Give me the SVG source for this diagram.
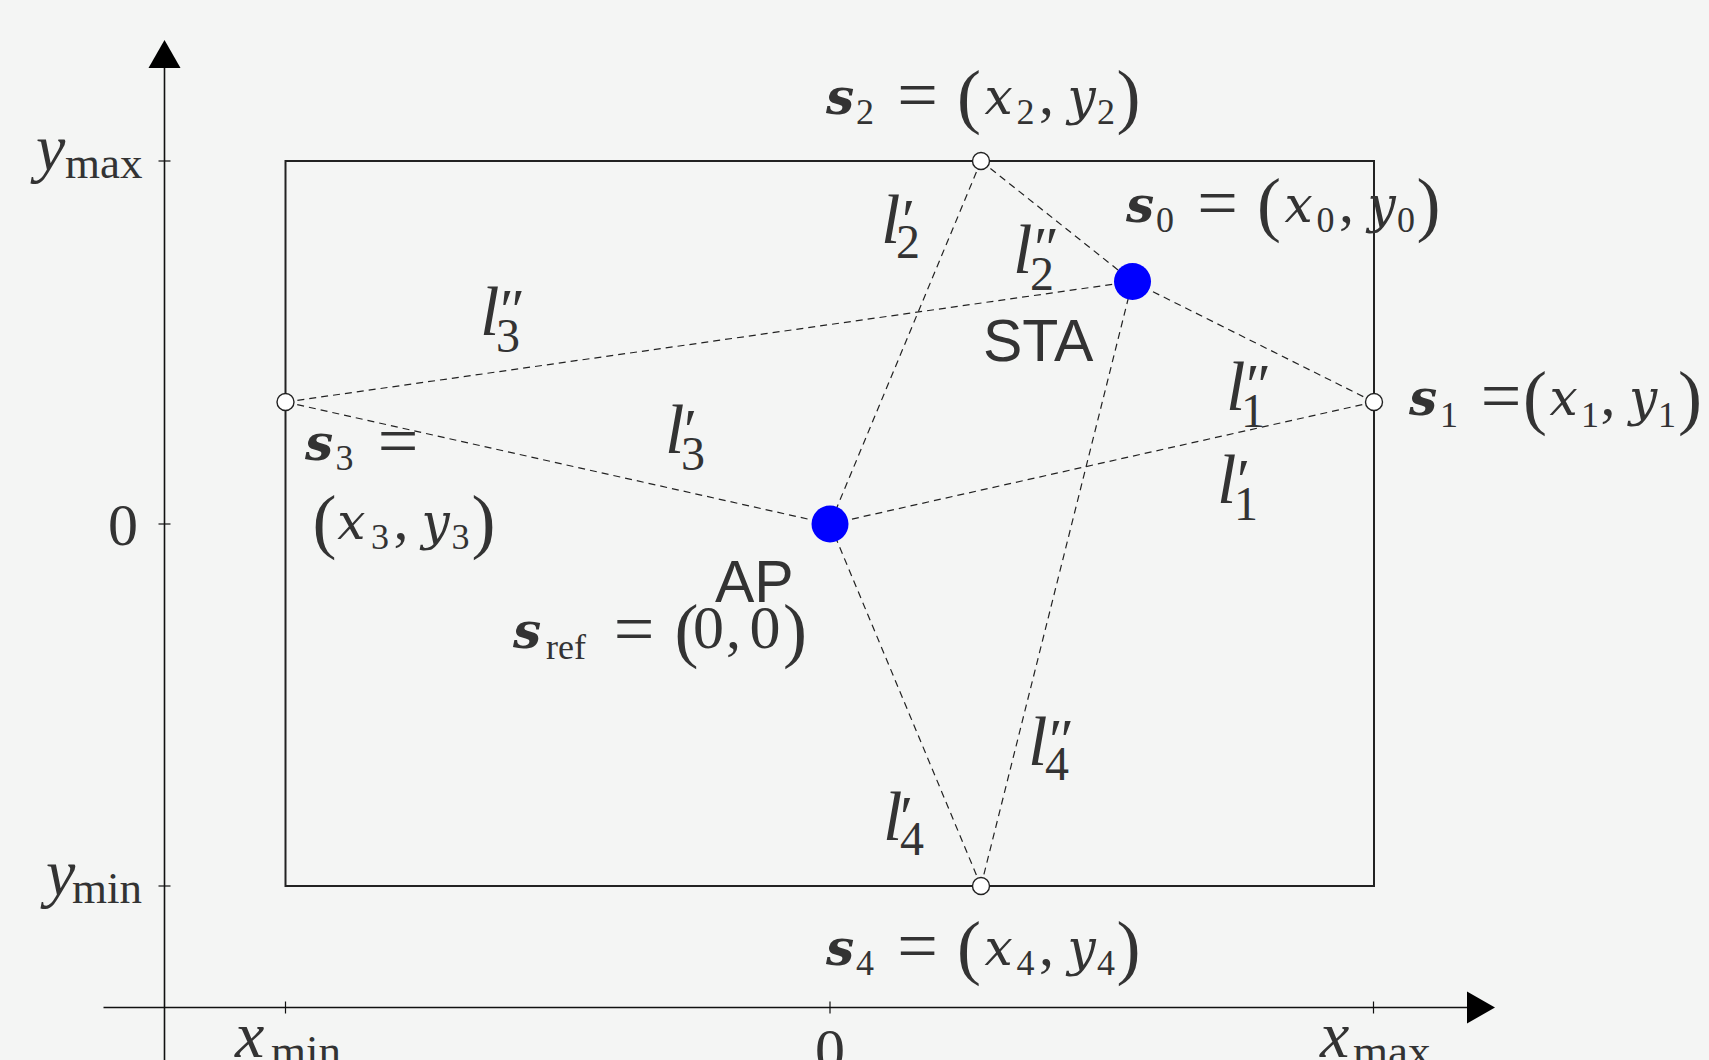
<svg xmlns="http://www.w3.org/2000/svg" width="1709" height="1060" viewBox="0 0 1709 1060">
<style>
.m{font-family:"Liberation Serif","Times New Roman",serif;fill:#333}
.i{font-style:italic}
.v{font-family:"DejaVu Serif",serif;font-style:italic;font-size:50px}
.b{font-family:"DejaVu Serif",serif;font-style:italic;font-weight:bold;font-size:50px}
.sub{font-size:36px}
.eq{font-size:72px}
.par{font-size:72px}
.sf{font-family:"Liberation Sans",Arial,sans-serif;font-size:59px;fill:#333}
.ax{stroke:#111;stroke-width:1.6;fill:none}
.tk{stroke:#111;stroke-width:1.2}
.dash{stroke:#222;stroke-width:1.2;stroke-dasharray:7 5;fill:none}
.hole{fill:#fff;stroke:#222;stroke-width:1.4}
.dot{fill:#0000ff}
</style>
<rect width="1709" height="1060" fill="#f4f5f4"/>
<g id="axes">
<line class="ax" x1="164.5" y1="1060" x2="164.5" y2="66"/>
<polygon points="164.5,40 148.5,68 180.5,68" fill="#000"/>
<line class="ax" x1="103.5" y1="1007.5" x2="1468" y2="1007.5"/>
<polygon points="1495,1007.5 1467,991.5 1467,1023.5" fill="#000"/>
<line class="tk" x1="158.5" y1="161" x2="170.5" y2="161"/>
<line class="tk" x1="158.5" y1="524" x2="170.5" y2="524"/>
<line class="tk" x1="158.5" y1="886" x2="170.5" y2="886"/>
<line class="tk" x1="285.5" y1="1001.5" x2="285.5" y2="1013.5"/>
<line class="tk" x1="830" y1="1001.5" x2="830" y2="1013.5"/>
<line class="tk" x1="1373.5" y1="1001.5" x2="1373.5" y2="1013.5"/>
<text class="m"><tspan class="i" x="36" y="170" font-size="66">y</tspan><tspan x="65" y="178" font-size="45">max</tspan></text>
<text class="m"><tspan class="i" x="46" y="895" font-size="66">y</tspan><tspan x="72" y="903" font-size="45">min</tspan></text>
<text class="m" x="108" y="545" font-size="60">0</text>
<text class="m"><tspan class="i" x="235" y="1057" font-size="66">x</tspan><tspan x="271" y="1066" font-size="45">min</tspan></text>
<text class="m" x="815" y="1070" font-size="60">0</text>
<text class="m"><tspan class="i" x="1320" y="1057" font-size="66">x</tspan><tspan x="1353" y="1066" font-size="45">max</tspan></text>
</g>
<g id="area">
<rect x="285.5" y="161" width="1088.5" height="725" fill="none" stroke="#222" stroke-width="2"/>
</g>
<g id="connectors">
<line class="dash" x1="285.5" y1="402" x2="1132.5" y2="281.5"/>
<line class="dash" x1="285.5" y1="402" x2="830" y2="524"/>
<line class="dash" x1="981" y1="161" x2="830" y2="524"/>
<line class="dash" x1="981" y1="161" x2="1132.5" y2="281.5"/>
<line class="dash" x1="1374" y1="402" x2="1132.5" y2="281.5"/>
<line class="dash" x1="1374" y1="402" x2="830" y2="524"/>
<line class="dash" x1="981" y1="886" x2="830" y2="524"/>
<line class="dash" x1="981" y1="886" x2="1132.5" y2="281.5"/>
</g>
<g id="labels-l" class="m">
<text><tspan class="i" x="881" y="243" font-size="70">l</tspan><tspan x="902" y="240" font-size="60">′</tspan><tspan x="896" y="258" font-size="48">2</tspan></text>
<text><tspan class="i" x="1013" y="273" font-size="70">l</tspan><tspan x="1034" y="268" font-size="60">″</tspan><tspan x="1030" y="290" font-size="48">2</tspan></text>
<text><tspan class="i" x="480" y="335" font-size="70">l</tspan><tspan x="500" y="330" font-size="60">″</tspan><tspan x="496" y="352" font-size="48">3</tspan></text>
<text><tspan class="i" x="665" y="453" font-size="70">l</tspan><tspan x="684" y="450" font-size="60">′</tspan><tspan x="681" y="470" font-size="48">3</tspan></text>
<text><tspan class="i" x="1226" y="410" font-size="70">l</tspan><tspan x="1246" y="405" font-size="60">″</tspan><tspan x="1241" y="427" font-size="48">1</tspan></text>
<text><tspan class="i" x="1217" y="503" font-size="70">l</tspan><tspan x="1237" y="500" font-size="60">′</tspan><tspan x="1234" y="520" font-size="48">1</tspan></text>
<text><tspan class="i" x="1028" y="765" font-size="70">l</tspan><tspan x="1049" y="760" font-size="60">″</tspan><tspan x="1045" y="780" font-size="48">4</tspan></text>
<text><tspan class="i" x="883" y="840" font-size="70">l</tspan><tspan x="900" y="837" font-size="60">′</tspan><tspan x="900" y="855" font-size="48">4</tspan></text>
</g>
<g id="s2">
<circle class="hole" cx="981" cy="161" r="8.5"/>
<text class="m" text-anchor="middle"><tspan class="b" x="840" y="114">s</tspan><tspan class="sub" x="865" y="124">2</tspan><tspan class="eq" x="917.5" y="119">=</tspan><tspan class="par" x="969" y="120">(</tspan><tspan class="v" x="998.5" y="114">x</tspan><tspan class="sub" x="1025.5" y="124">2</tspan><tspan x="1046.5" y="114" font-size="60">,</tspan><tspan class="v" x="1081.5" y="114">y</tspan><tspan class="sub" x="1106" y="124">2</tspan><tspan class="par" x="1128.5" y="120">)</tspan></text>
</g>
<g id="s4">
<circle class="hole" cx="981" cy="886" r="8.5"/>
<text class="m" text-anchor="middle"><tspan class="b" x="840" y="965">s</tspan><tspan class="sub" x="865" y="975">4</tspan><tspan class="eq" x="917.5" y="970">=</tspan><tspan class="par" x="969" y="971">(</tspan><tspan class="v" x="998.5" y="965">x</tspan><tspan class="sub" x="1025.5" y="975">4</tspan><tspan x="1046.5" y="965" font-size="60">,</tspan><tspan class="v" x="1081.5" y="965">y</tspan><tspan class="sub" x="1106" y="975">4</tspan><tspan class="par" x="1128.5" y="971">)</tspan></text>
</g>
<g id="s1">
<circle class="hole" cx="1374" cy="402" r="8.5"/>
<text class="m" text-anchor="middle"><tspan class="b" x="1423" y="415">s</tspan><tspan class="sub" x="1449" y="427">1</tspan><tspan class="eq" x="1501" y="420">=</tspan><tspan class="par" x="1535" y="421">(</tspan><tspan class="v" x="1563.5" y="415">x</tspan><tspan class="sub" x="1590" y="427">1</tspan><tspan x="1608" y="415" font-size="60">,</tspan><tspan class="v" x="1643" y="415">y</tspan><tspan class="sub" x="1667" y="427">1</tspan><tspan class="par" x="1690" y="421">)</tspan></text>
</g>
<g id="s3">
<circle class="hole" cx="285.5" cy="402" r="8.5"/>
<text class="m" text-anchor="middle"><tspan class="b" x="319" y="460">s</tspan><tspan class="sub" x="344.5" y="470">3</tspan><tspan class="eq" x="398" y="465">=</tspan><tspan class="par" x="324.5" y="545">(</tspan><tspan class="v" x="351.3" y="539">x</tspan><tspan class="sub" x="380" y="549">3</tspan><tspan x="401" y="539" font-size="60">,</tspan><tspan class="v" x="435.5" y="539">y</tspan><tspan class="sub" x="460.5" y="549">3</tspan><tspan class="par" x="483.5" y="545">)</tspan></text>
</g>
<g id="AP">
<circle class="dot" cx="830" cy="524" r="18.5"/>
<text class="sf" x="715" y="602">AP</text>
<text class="m" text-anchor="middle"><tspan class="b" x="527" y="648">s</tspan><tspan x="566" y="659" font-size="36">ref</tspan><tspan class="eq" x="634" y="653">=</tspan><tspan class="par" x="686.5" y="654">(</tspan><tspan x="708.5" y="648" font-size="62">0</tspan><tspan x="733.5" y="648" font-size="60">,</tspan><tspan x="765" y="648" font-size="62">0</tspan><tspan class="par" x="795" y="654">)</tspan></text>
</g>
<g id="STA">
<circle class="dot" cx="1132.5" cy="281.5" r="18.5"/>
<text class="sf" x="983" y="361">STA</text>
<text class="m" text-anchor="middle"><tspan class="b" x="1140" y="222">s</tspan><tspan class="sub" x="1165" y="232">0</tspan><tspan class="eq" x="1217.5" y="227">=</tspan><tspan class="par" x="1269" y="228">(</tspan><tspan class="v" x="1298.5" y="222">x</tspan><tspan class="sub" x="1325.5" y="232">0</tspan><tspan x="1346.5" y="222" font-size="60">,</tspan><tspan class="v" x="1381.5" y="222">y</tspan><tspan class="sub" x="1406" y="232">0</tspan><tspan class="par" x="1428.5" y="228">)</tspan></text>
</g>
</svg>
